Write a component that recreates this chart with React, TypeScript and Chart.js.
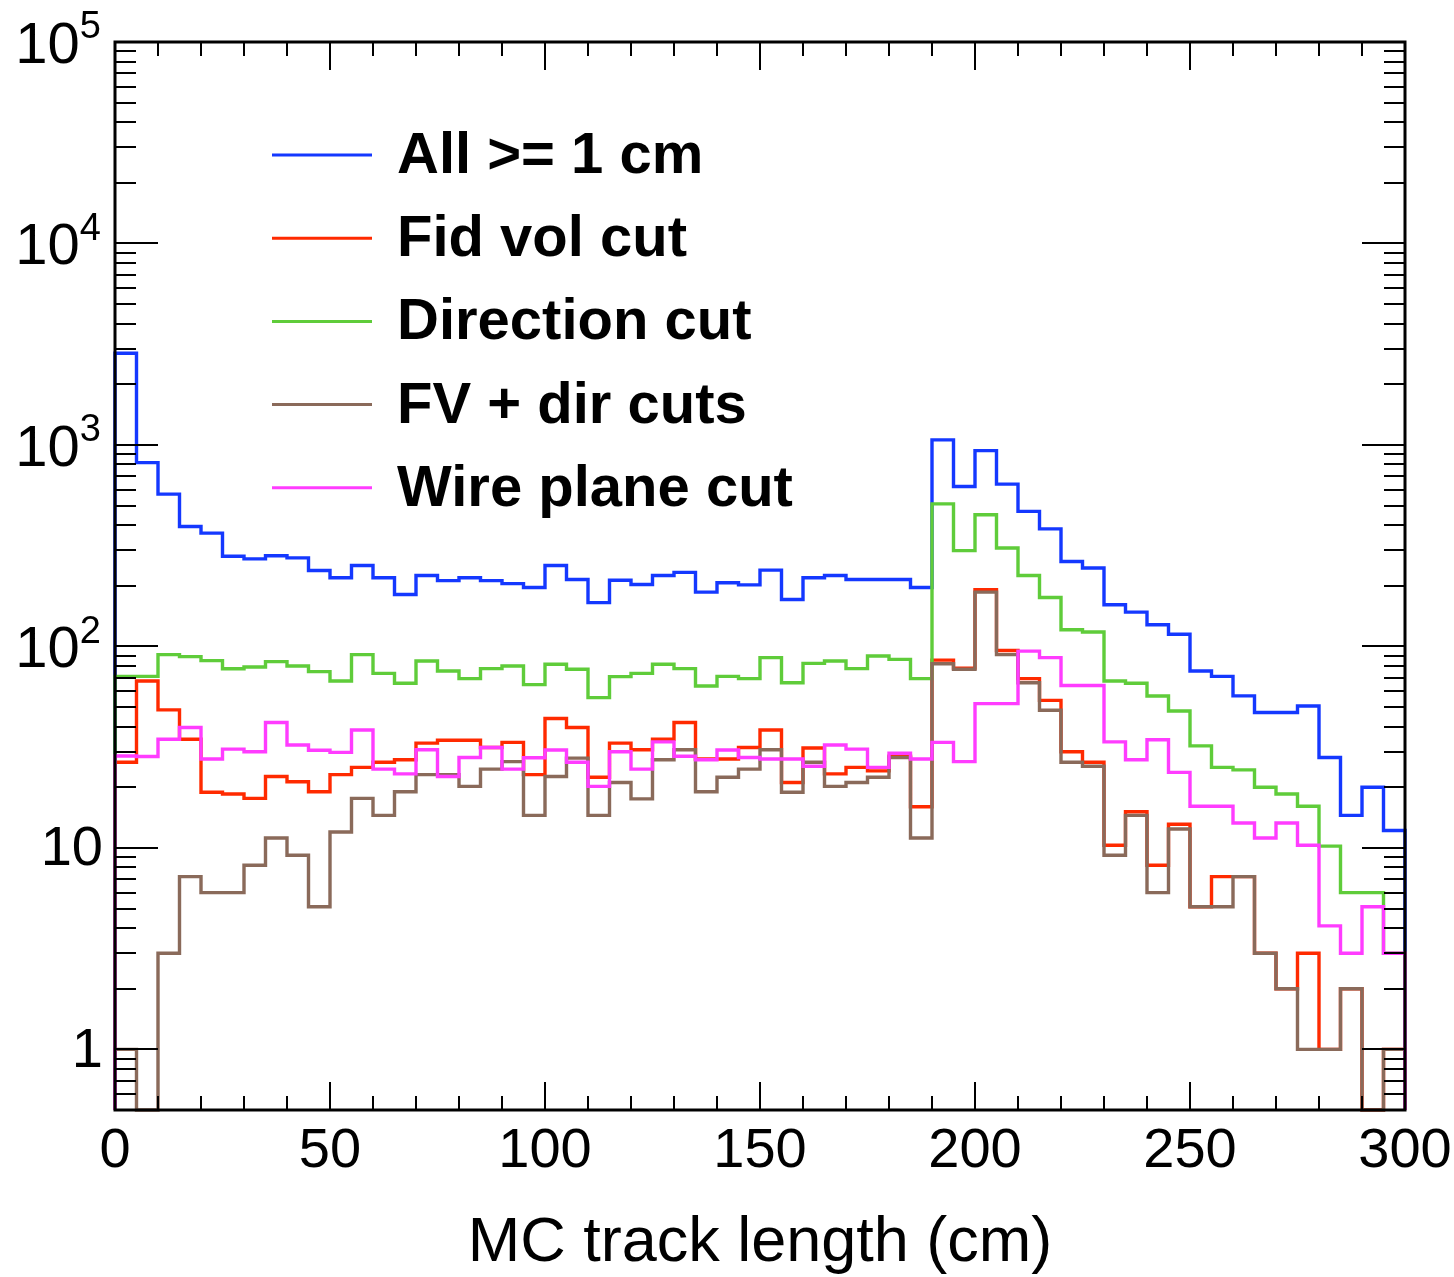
import React, { useEffect, useRef } from "react";
import { Chart, registerables } from "chart.js";

Chart.register(...registerables);

// ---------- axis ranges & labels ----------
const X_MIN = 0;
const X_MAX = 300;
const BIN_WIDTH = 5;
const Y_MIN = 0.5;
const Y_MAX = 100000;
const X_TICK_LABELS = [0, 50, 100, 150, 200, 250, 300];
const Y_DECADE_EXPONENTS = [0, 1, 2, 3, 4, 5];
const X_TITLE = "MC track length (cm)";

// bin low edges (60 bins of 5 cm)
const BIN_LOW_EDGES = Array.from({ length: (X_MAX - X_MIN) / BIN_WIDTH }, (_, i) => X_MIN + i * BIN_WIDTH);

// ---------- series (entries per 5 cm bin) ----------
const allTracks = [
  2850, 817, 570, 394, 365, 280, 272, 282, 275, 238,
  219, 252, 219, 181, 225, 212, 219, 212, 205, 196,
  252, 215, 165, 213, 203, 225, 233, 186, 207, 202,
  239, 171, 219, 225, 215, 215, 215, 196, 1060, 622,
  937, 639, 468, 383, 264, 245, 161, 148, 128, 115,
  75.5, 71, 56.8, 47, 47, 50.6, 28.1, 14.5, 20, 12.2,
];
const fidVolCut = [
  26.6, 67.3, 48.4, 34.6, 18.9, 18.5, 17.6, 22.6, 21.3, 19.0,
  23.1, 25.1, 26.6, 27.4, 33.1, 34.2, 34.2, 31.5, 33.4, 23.1,
  43.9, 39.6, 22.4, 33.1, 30.7, 34.6, 41.9, 27.6, 27.6, 31.5,
  38.5, 21.1, 31.3, 23.3, 25.1, 24.1, 28.5, 16.0, 85.5, 78,
  191, 95.5, 69.2, 54, 30, 26.6, 10.3, 15.1, 8.2, 13.1,
  5.1, 7.2, 7.2, 3, 2, 3, 1, 2, 0, 1,
];
const directionCut = [
  71, 71, 91, 89, 85, 77.5, 79, 84, 80, 75,
  67.3, 91, 73.5, 65.6, 84.6, 75.5, 69.2, 77.6, 80, 64.6,
  81.5, 77, 55.7, 70.8, 73.5, 81.5, 77.6, 63.6, 71, 69.2,
  88, 66, 82.4, 84.6, 77.6, 89.6, 86.2, 69.2, 510, 299,
  450, 308, 225, 175, 121, 118, 67.3, 65.6, 56.7, 47.8,
  32.1, 25.1, 24.4, 20, 18.5, 16.1, 10.2, 6.0, 6.0, 3,
];
const fvDirCuts = [
  1, 0, 3, 7.2, 6, 6, 8.2, 11.2, 9.2, 5.1,
  12, 17.6, 14.5, 19, 23.1, 23.1, 20.2, 24.6, 26.8, 14.5,
  22.6, 27.9, 14.5, 21.1, 17.5, 27.4, 30.7, 19, 22.4, 24.6,
  30.7, 18.9, 26.6, 20.2, 21.1, 22.4, 28.1, 11.2, 82, 77,
  186, 91, 66, 48.2, 26.6, 25.4, 9.2, 14.5, 6, 12.4,
  5.1, 5.1, 7.2, 3, 2, 1, 1, 2, 0, 1,
];
const wirePlaneCut = [
  28.6, 28.4, 34.6, 39.6, 27.6, 30.9, 30, 41.9, 32.4, 30.5,
  29.8, 38.5, 24.6, 23.3, 30.7, 22.6, 28.1, 31.5, 24.6, 28,
  30.6, 26.6, 20.2, 30, 24.6, 33.6, 28.5, 27.4, 30.6, 28.1,
  27.6, 27.6, 25.4, 32.4, 30.9, 25.1, 29.5, 27.6, 33.4, 26.8,
  52, 52, 94.8, 88, 64, 64, 33.6, 27.4, 34.4, 23.7,
  16.1, 16.1, 13.3, 11.2, 13.3, 10.3, 4.1, 3, 5.1, 3,
];

const SERIES_LABELS = ["All >= 1 cm", "Fid vol cut", "Direction cut", "FV + dir cuts", "Wire plane cut"];
const SERIES_VALUES = [allTracks, fidVolCut, directionCut, fvDirCuts, wirePlaneCut];
const SERIES_COLORS = ["#1438ff", "#ff2a00", "#5fcc3a", "#8a6a5a", "#ff3cff"];
const SERIES_ORDER = [5, 4, 3, 2, 1]; // lower order drawn on top

const FONT = '"Liberation Sans", Arial, Helvetica, sans-serif';

function histPoints(values: number[]) {
  const pts: { x: number; y: number }[] = [{ x: X_MIN, y: Y_MIN }];
  values.forEach((v, i) => {
    const y = Math.max(v, Y_MIN);
    const lo = BIN_LOW_EDGES[i];
    pts.push({ x: lo, y });
    pts.push({ x: lo + BIN_WIDTH, y });
  });
  pts.push({ x: X_MAX, y: Y_MIN });
  return pts;
}

const rootFramePlugin = {
  id: "rootFrame",
  afterDatasetsDraw(chart: any) {
    const { ctx, chartArea: a, scales } = chart;
    const xs = scales.x;
    const ys = scales.y;
    ctx.save();
    ctx.strokeStyle = "#000";
    ctx.fillStyle = "#000";

    // ticks
    ctx.lineWidth = 2;
    ctx.beginPath();
    for (let v = X_MIN; v <= X_MAX; v += 10) {
      const px = Math.round(xs.getPixelForValue(v));
      const len = v % 50 === 0 ? 28 : 14;
      ctx.moveTo(px, a.bottom);
      ctx.lineTo(px, a.bottom - len);
      ctx.moveTo(px, a.top);
      ctx.lineTo(px, a.top + len);
    }
    for (let e = -1; e <= 4; e++) {
      for (let k = 1; k <= 9; k++) {
        const v = k * Math.pow(10, e);
        if (v < Y_MIN || v > Y_MAX) continue;
        const py = Math.round(ys.getPixelForValue(v));
        const len = k === 1 ? 43 : 21;
        ctx.moveTo(a.left, py);
        ctx.lineTo(a.left + len, py);
        ctx.moveTo(a.right, py);
        ctx.lineTo(a.right - len, py);
      }
    }
    ctx.stroke();

    // frame
    ctx.lineWidth = 3;
    ctx.strokeRect(a.left, a.top, a.right - a.left, a.bottom - a.top);

    // x labels
    ctx.font = `56px ${FONT}`;
    ctx.textAlign = "center";
    ctx.textBaseline = "middle";
    X_TICK_LABELS.forEach((v) => {
      ctx.fillText(String(v), xs.getPixelForValue(v), a.bottom + 42);
    });

    // y labels
    Y_DECADE_EXPONENTS.forEach((n) => {
      const py = ys.getPixelForValue(Math.pow(10, n));
      const right = a.left - 12;
      ctx.textBaseline = "middle";
      if (n === 0 || n === 1) {
        ctx.font = `56px ${FONT}`;
        ctx.textAlign = "right";
        ctx.fillText(n === 0 ? "1" : "10", right, py + 2);
      } else {
        ctx.font = `38px ${FONT}`;
        const supW = ctx.measureText(String(n)).width;
        ctx.textAlign = "right";
        ctx.fillText(String(n), right - 2, py - 14);
        ctx.font = `58px ${FONT}`;
        ctx.fillText("10", right - 2 - supW, py + 5);
      }
    });

    // x title
    ctx.font = `63px ${FONT}`;
    ctx.textAlign = "center";
    ctx.textBaseline = "middle";
    ctx.fillText(X_TITLE, (a.left + a.right) / 2, a.bottom + 134);

    // legend
    ctx.font = `bold 58px ${FONT}`;
    ctx.textAlign = "left";
    SERIES_LABELS.forEach((label, i) => {
      const y = a.top + 113 + i * 83.2;
      ctx.strokeStyle = SERIES_COLORS[i];
      ctx.lineWidth = 3;
      ctx.beginPath();
      ctx.moveTo(a.left + 157, y);
      ctx.lineTo(a.left + 257, y);
      ctx.stroke();
      ctx.fillStyle = "#000";
      ctx.fillText(label, a.left + 282, y + 2);
    });
    ctx.restore();
  },
};

export default function App() {
  const canvasRef = useRef<HTMLCanvasElement | null>(null);

  useEffect(() => {
    const canvas = canvasRef.current;
    if (!canvas) return;
    const chart = new Chart(canvas, {
      type: "line",
      data: {
        datasets: SERIES_VALUES.map((vals, i) => ({
          label: SERIES_LABELS[i],
          data: histPoints(vals),
          borderColor: SERIES_COLORS[i],
          backgroundColor: SERIES_COLORS[i],
          borderWidth: 3.4,
          pointRadius: 0,
          tension: 0,
          fill: false,
          order: SERIES_ORDER[i],
          clip: 3,
          borderJoinStyle: "miter",
        })),
      },
      options: {
        responsive: false,
        animation: false,
        devicePixelRatio: 1,
        layout: { padding: { left: 115, right: 49, top: 42, bottom: 167 } },
        scales: {
          x: { type: "linear", min: X_MIN, max: X_MAX, display: false },
          y: { type: "logarithmic", min: Y_MIN, max: Y_MAX, display: false },
        },
        plugins: {
          legend: { display: false },
          tooltip: { enabled: false },
        },
        events: [],
      },
      plugins: [rootFramePlugin],
    } as any);
    return () => chart.destroy();
  }, []);

  return (
    <div style={{ position: "absolute", left: 0, top: 0, width: 1454, height: 1277, background: "#fff" }}>
      <canvas ref={canvasRef} width={1454} height={1277} style={{ width: 1454, height: 1277, display: "block" }} />
    </div>
  );
}
